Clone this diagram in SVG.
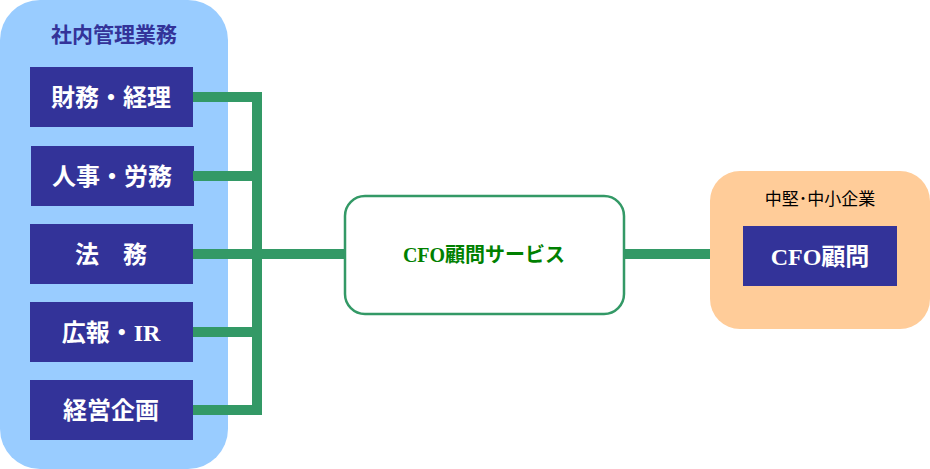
<svg xmlns="http://www.w3.org/2000/svg" width="930" height="469" viewBox="0 0 930 469">
<style>
.bx{fill:#333399}
.wt{fill:#fff;font-family:"Liberation Serif","Noto Sans CJK JP",serif;font-weight:bold;font-size:24px;text-anchor:middle}
.ln{stroke:#339966;stroke-width:10;fill:none}
</style>
<rect width="930" height="469" fill="#fff"/>
<g id="panel-left"><rect x="0" y="0" width="228" height="469" rx="40" fill="#99ccff"/>
<text x="114" y="42" font-family="Liberation Serif,Noto Sans CJK JP,serif" font-weight="bold" font-size="21" fill="#333399" text-anchor="middle">社内管理業務</text></g>
<g id="n1"><rect class="bx" x="30" y="67" width="163" height="60"/><text class="wt" x="111" y="106">財務・経理</text></g>
<g id="n2"><rect class="bx" x="31" y="146" width="163" height="60"/><text class="wt" x="112" y="185">人事・労務</text></g>
<g id="n3"><rect class="bx" x="30" y="224" width="163" height="60"/><text class="wt" x="111" y="263">法　務</text></g>
<g id="n4"><rect class="bx" x="30" y="302" width="163" height="60"/><text class="wt" x="111" y="341">広報・IR</text></g>
<g id="n5"><rect class="bx" x="30" y="380" width="163" height="60"/><text class="wt" x="111" y="419">経営企画</text></g>
<g id="connectors">
<path class="ln" d="M193 97H257V410H193M193 176H257M193 332H257M193 254H345"/>
<path class="ln" d="M624 254H722"/>
<polygon points="718,232 742,254 718,276" fill="#339966"/>
</g>
<g id="service"><rect x="345" y="196" width="279" height="118" rx="20" fill="#fff" stroke="#339966" stroke-width="2.5"/>
<text x="484" y="262" font-family="Liberation Serif,Noto Sans CJK JP,serif" font-weight="bold" font-size="20" fill="#008000" text-anchor="middle">CFO顧問サービス</text></g>
<g id="panel-right"><rect x="710" y="171" width="220" height="158" rx="30" fill="#ffcc99"/>
<text x="820" y="205" font-family="Liberation Sans,Noto Sans CJK JP,sans-serif" font-size="17" fill="#000" text-anchor="middle">中堅･中小企業</text></g>
<g id="cfo"><rect class="bx" x="743" y="226" width="154" height="60"/><text class="wt" x="820" y="265">CFO顧問</text></g>
</svg>
